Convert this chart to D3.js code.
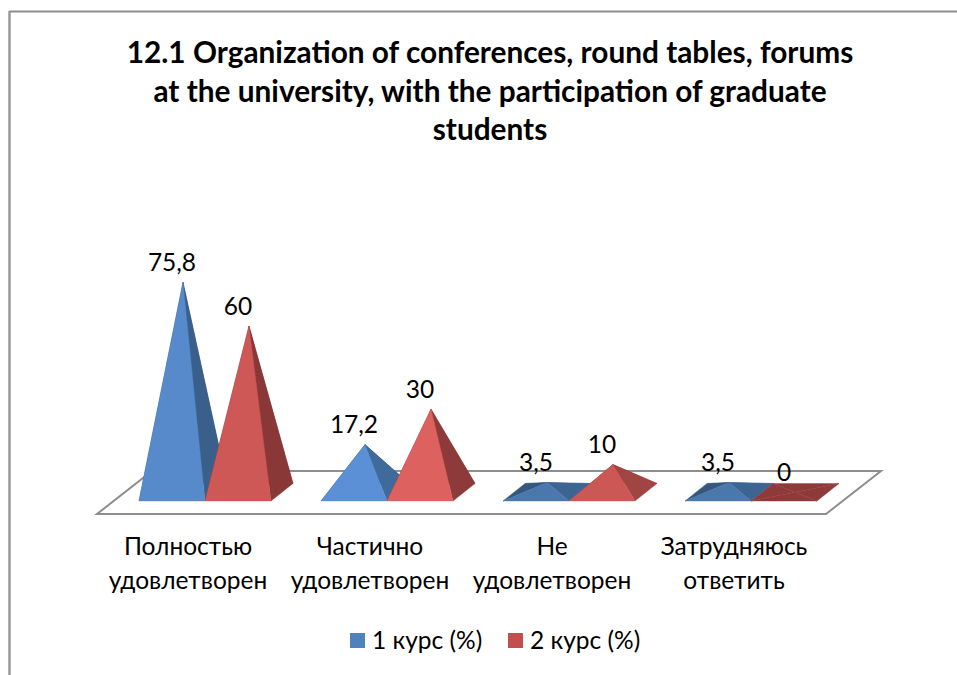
<!DOCTYPE html>
<html><head><meta charset="utf-8">
<script src="https://cdnjs.cloudflare.com/ajax/libs/d3/7.8.5/d3.min.js"></script>
<style>html,body{margin:0;padding:0;background:#fff}svg{display:block}text{font-family:Lato,"Open Sans","Noto Sans",sans-serif;fill:#000}</style>
</head><body><svg id="c" width="957" height="675"></svg>
<script>
const titleLines=["12.1 Organization of conferences, round tables, forums","at the university, with the participation of graduate","students"];
const categories=["Полностью удовлетворен","Частично удовлетворен","Не удовлетворен","Затрудняюсь ответить"];
const seriesNames=["1 курс (%)","2 курс (%)"];
const course1=[75.8,17.2,3.5,3.5];
const course2=[60,30,10,0];
const labels1=["75,8","17,2","3,5","3,5"];
const labels2=["60","30","10","0"];
const frontColors=[["#568acb","#5b90d6","#4a78ad","#4a78ad"],["#cd5856","#dd625f","#cc5855","#8f3a3a"]];
const sideColors=[["#3a5f8a","#3f6a9a","#3d6594","#3d6594"],["#8a3737","#8f3a3a","#a04544","#8f3a3a"]];
const leftColors=[["#345578","#345578","#36587f","#36587f"],["#7a3030","#7a3030","#8f3a3a","#8f3a3a"]];
const legendColors=["#4f81bd","#c0504d"];

const svg=d3.select("#c");
const W=957,H=675;
const frame=svg.append("g").attr("fill","none").attr("stroke","#8c8c8c");
frame.append("line").attr("x1",9).attr("x2",W).attr("y1",11.5).attr("y2",11.5).attr("stroke-width",2);
frame.append("line").attr("x1",9.5).attr("x2",9.5).attr("y1",11).attr("y2",H).attr("stroke-width",2.5).attr("stroke","#999");

const title=svg.append("g");
title.selectAll("text").data(titleLines).join("text")
 .attr("x",490).attr("y",(d,i)=>63+i*38.5).attr("text-anchor","middle")
 .attr("font-size",29.8).attr("font-weight",700).text(d=>d);

const x=d3.scaleBand().domain(categories).range([114,842]);
const s=d3.scaleBand().domain([0,1]).range([-66,66]);
const y=d3.scaleLinear().domain([0,100]).range([0,277]);
const frontY=501,depthX=22,depthY=17.5;

// floor
const floorPts=[[97,514],[826,514],[881,471],[152,471]];
svg.append("path").attr("d",d3.line()(floorPts)+"Z").attr("fill","#fff").attr("stroke","#8e8e8e").attr("stroke-width",2);

const plot=svg.append("g");
const line=d3.line();
[course1,course2].forEach((vals,si)=>{
  const g=plot.append("g");
  categories.forEach((c,i)=>{
    const v=vals[i];
    const xl=x(c)+x.bandwidth()/2+s(si), bw=s.bandwidth();
    const FL=[xl,frontY],FR=[xl+bw,frontY],BR=[xl+bw+depthX,frontY-depthY],BL=[xl+depthX,frontY-depthY];
    const A=[xl+bw/2+depthX/2,frontY-depthY/2-y(v)];
    const cg=g.append("g");
    const face=(pts,col)=>cg.append("path").attr("d",line(pts)+"Z").attr("fill",col).attr("stroke",col).attr("stroke-width",0.4);
    face([BL,BR,A],leftColors[si][i]);
    face([FL,BL,A],leftColors[si][i]);
    face([FR,BR,A],sideColors[si][i]);
    face([FL,FR,A],frontColors[si][i]);
  });
});
const labelsG=svg.append("g");
[course1,course2].forEach((vals,si)=>{
  const lab=si?labels2:labels1;
  categories.forEach((c,i)=>{
    labelsG.append("text")
     .attr("x",x(c)+x.bandwidth()/2+s(si)+s.bandwidth()/2)
     .attr("y",frontY-depthY/2-y(vals[i])-11.5)
     .attr("text-anchor","middle").attr("font-size",24.5).text(lab[i]);
  });
});

// category axis
const axis=svg.append("g").attr("transform","translate(-17,522)")
 .call(d3.axisBottom(x).tickSize(0).tickPadding(0));
axis.select(".domain").remove();
axis.selectAll(".tick text").each(function(d){
  const t=d3.select(this).text(null).attr("y",0).attr("dy",null).attr("font-size",24.5).attr("text-anchor","middle");
  d.split(" ").forEach((w,i)=>t.append("tspan").attr("x",0).attr("y",33+i*34).text(w));
});
axis.attr("font-family",null).attr("font-size",null);

// legend
const legX=[350,508];
const leg=svg.append("g").selectAll("g").data(seriesNames).join("g").attr("transform",(d,i)=>`translate(${legX[i]},633)`);
leg.append("rect").attr("width",15).attr("height",15).attr("fill",(d,i)=>legendColors[i]);
leg.append("text").attr("x",22).attr("y",16).attr("font-size",24.5).text(d=>d);
</script></body></html>
